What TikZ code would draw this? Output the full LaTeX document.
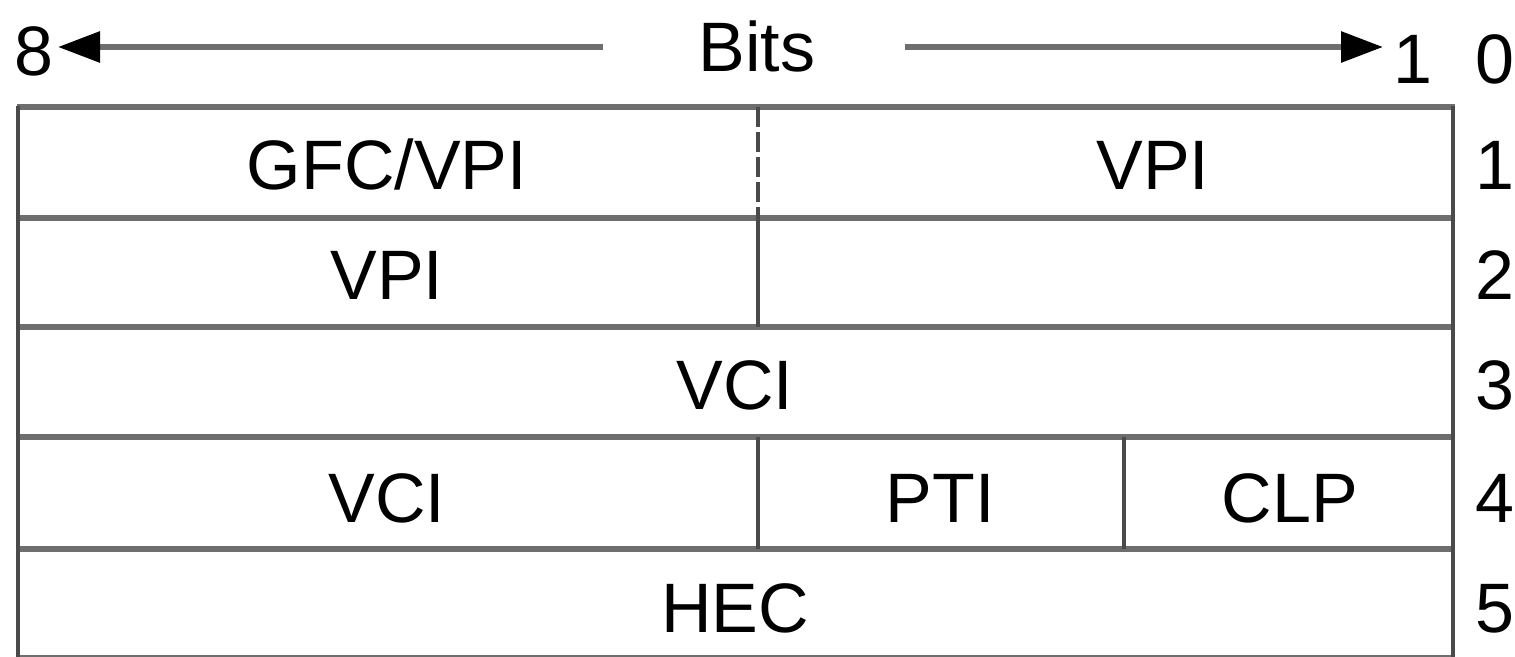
\documentclass[tikz,border=0pt]{standalone}
\usepackage{fontspec}
\setmainfont{Liberation Sans}
\usetikzlibrary{arrows.meta}
\definecolor{hline}{HTML}{6E6E6E}
\definecolor{vline}{HTML}{4A4A4A}
\begin{document}
\begin{tikzpicture}[x=0.5pt,y=-0.5pt,
  txt/.style={font=\fontsize{35}{35}\selectfont, inner sep=0pt, anchor=base},
  lbl/.style={font=\fontsize{35}{35}\selectfont, inner sep=0pt, anchor=base west},
  hl/.style={draw=hline, line width=3pt},
  vl/.style={draw=vline, line width=2pt},
  arr/.style={draw=hline, line width=3pt, -{Triangle[length=21pt,width=15pt,color=black]}}]
\useasboundingbox (0,0) rectangle (1515,657);
% header
\node[lbl] (b8) at (14,76) {8};
\node[txt] (bits) at (757,72) {Bits};
\node[lbl] (b1) at (1393,84) {1};
\node[lbl] (b0) at (1475,84) {0};
\coordinate (la) at (603,47);
\coordinate (lt) at (58,47);
\coordinate (ra) at (905,47);
\coordinate (rt) at (1383,47);
\draw[arr] (la) -- (lt);
\draw[arr] (ra) -- (rt);
% grid
\foreach \y in {107,218,327,437,549} \draw[hl] (17,\y) -- (1455,\y);
\draw[draw=hline, line width=1.5pt] (17,656) -- (1455,656);
\draw[vl] (18,106) -- (18,657);
\draw[vl] (1453,106) -- (1453,657);
\draw[vl, dash pattern=on 10pt off 2.5pt] (758,107) -- (758,218);
\draw[vl] (758,218) -- (758,327);
\draw[vl] (758,437) -- (758,549);
\draw[vl] (1124,437) -- (1124,549);
% cells
\node[txt] (gfc) at (387,190) {GFC/VPI};
\node[txt] (vpia) at (1153,190) {VPI};
\node[txt] (vpib) at (387,300) {VPI};
\node[txt] (vcia) at (735,410) {VCI};
\node[txt] (vcib) at (387,522) {VCI};
\node[txt] (pti) at (940,522) {PTI};
\node[txt] (clp) at (1290,522) {CLP};
\node[txt] (hec) at (735,632) {HEC};
% row numbers
\node[lbl] (r1) at (1475,190) {1};
\node[lbl] (r2) at (1475,300) {2};
\node[lbl] (r3) at (1475,410) {3};
\node[lbl] (r4) at (1475,522) {4};
\node[lbl] (r5) at (1475,632) {5};
\end{tikzpicture}
\end{document}
